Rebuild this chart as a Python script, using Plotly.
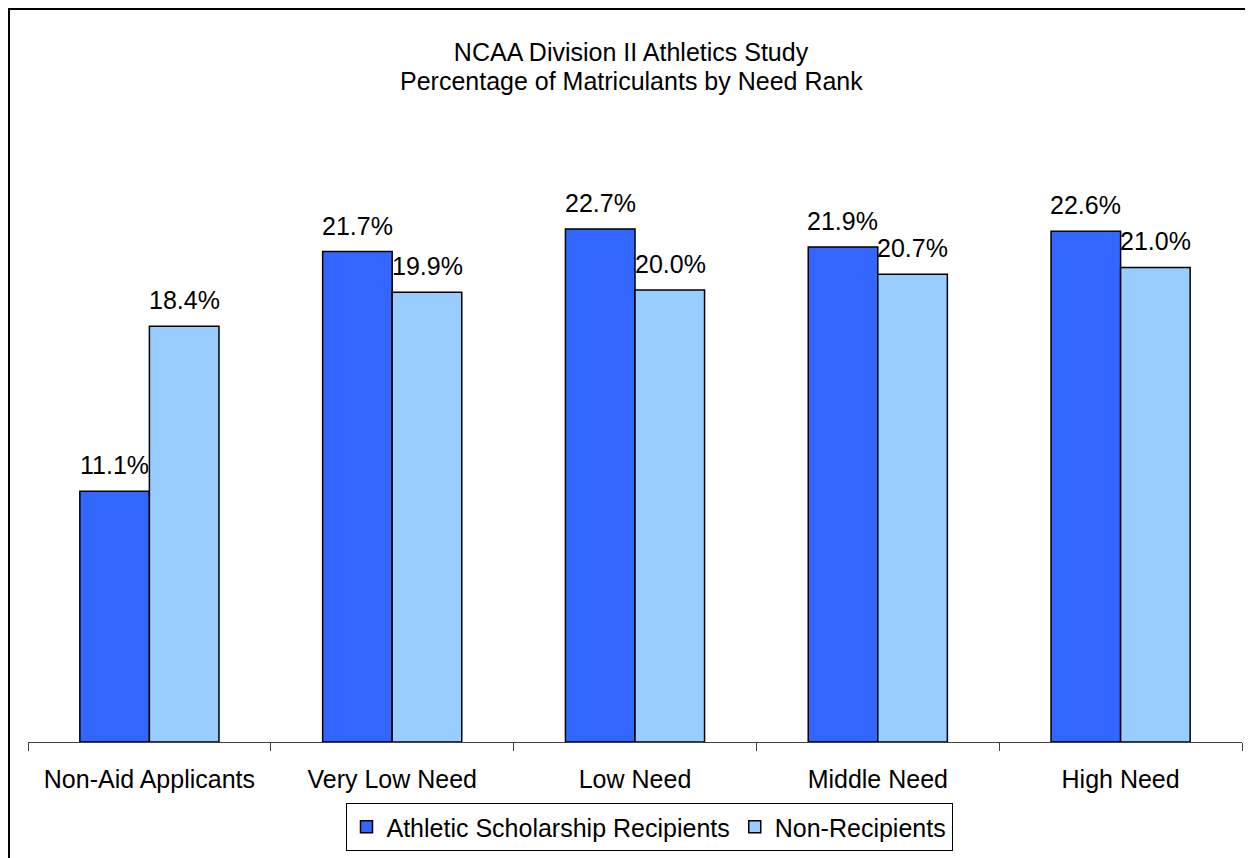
import plotly.graph_objects as go

# Données du graphique
categories = ["Non-Aid Applicants", "Very Low Need", "Low Need", "Middle Need", "High Need"]
recipients = [11.1, 21.7, 22.7, 21.9, 22.6]
non_recipients = [18.4, 19.9, 20.0, 20.7, 21.0]
series_names = ["Athletic Scholarship Recipients", "Non-Recipients"]
title_lines = ["NCAA Division II Athletics Study", "Percentage of Matriculants by Need Rank"]

FONT = "Liberation Sans, Arial, sans-serif"
W, H = 1253, 858
L, R, T, B = 20, 19, 169, 124
PW, PH = W - L - R, H - T - B

fig = go.Figure()
fig.add_trace(go.Bar(x=categories, y=recipients, name=series_names[0],
                     marker=dict(color="#3366FF", line=dict(color="black", width=1.5))))
fig.add_trace(go.Bar(x=categories, y=non_recipients, name=series_names[1],
                     marker=dict(color="#99CCFF", line=dict(color="black", width=1.5))))

# Étiquettes de données au-dessus des barres
for cat, v in zip(categories, recipients):
    fig.add_annotation(x=cat, y=v, text=f"{v:.1f}%", showarrow=False, xshift=-35,
                       yanchor="bottom", yshift=10, font=dict(size=25, color="black"))
for cat, v in zip(categories, non_recipients):
    fig.add_annotation(x=cat, y=v, text=f"{v:.1f}%", showarrow=False, xshift=35,
                       yanchor="bottom", yshift=10, font=dict(size=25, color="black"))

# Deuxième ligne du titre
fig.add_annotation(text=title_lines[1], xref="paper", yref="paper",
                   x=(623 - L) / PW, y=(H - B - 73) / PH, xanchor="center", yanchor="middle",
                   showarrow=False, font=dict(size=25, color="black"))

# Cadre du graphique (bords gauche et haut visibles)
fig.add_shape(type="rect", xref="paper", yref="paper",
              x0=(1 - L) / PW, x1=1.2, y0=-0.4, y1=(H - B - 1) / PH,
              line=dict(color="black", width=2))

fig.update_layout(
    width=W, height=H,
    margin=dict(l=L, r=R, t=T, b=B),
    paper_bgcolor="white", plot_bgcolor="white",
    font=dict(family=FONT, size=25, color="black"),
    title=dict(text=title_lines[0],
               x=623 / W, xref="container", xanchor="center",
               y=1 - 44 / H, yref="container", yanchor="middle",
               font=dict(size=25)),
    barmode="group", bargap=0.427, bargroupgap=0,
    showlegend=True,
    legend=dict(orientation="h", x=(641 - L) / PW, xanchor="center",
                y=(H - B - 819) / PH, yanchor="middle",
                bordercolor="black", borderwidth=1, font=dict(size=25),
                itemclick=False),
)
fig.update_xaxes(showline=True, linecolor="#404040", linewidth=1,
                 ticks="outside", tickson="boundaries", ticklen=8, tickcolor="#404040",
                 ticklabelstandoff=15, showgrid=False)
fig.update_yaxes(range=[0, 25], visible=False, showgrid=False)

fig.write_html("out.html")
